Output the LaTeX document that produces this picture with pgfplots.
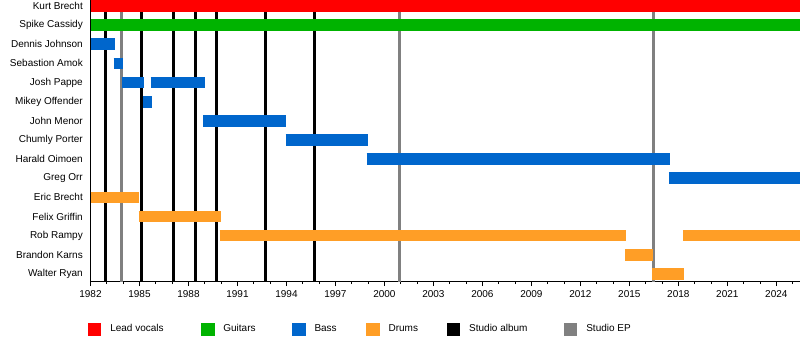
\documentclass[border=0pt]{standalone}
\usepackage{pgfplots}
\pgfplotsset{compat=1.18}
\usepackage{fontspec}
\setmainfont{Liberation Sans}
\definecolor{cvoc}{RGB}{255,0,0}
\definecolor{cgtr}{RGB}{0,179,0}
\definecolor{cbas}{RGB}{0,102,204}
\definecolor{cdrm}{RGB}{255,158,38}
\definecolor{cep}{RGB}{128,128,128}
\newcommand{\seg}[4]{\addplot[#1, line width=11.7pt, forget plot] coordinates {(#2,#4) (#3,#4)};}
\newcommand{\vl}[2]{\addplot[#1, line width=3pt, forget plot] coordinates {(#2,1) (#2,-15)};}
\begin{document}
\begin{tikzpicture}
\path[use as bounding box] (0,0) rectangle (800pt,360pt);
\begin{axis}[
  at={(90.5pt,79pt)}, anchor=south west,
  scale only axis, width=709.5pt, height=281pt,
  xmin=1982, xmax=2025.45, ymin=-14.37, ymax=0.313,
  axis x line*=bottom, axis y line*=left,
  axis line style={line width=0.8pt},
  xtick={1982,1985,...,2024}, minor xtick={1982,...,2025},
  tick align=outside, major tick length=5pt, minor tick length=3pt,
  tick style={black, line width=0.8pt},
  xticklabel style={/pgf/number format/1000 sep=, font=\fontsize{10}{12}\selectfont, yshift=-1pt},
  /pgf/number format/assume math mode=true,
  ytick={-14,...,0},
  yticklabels={Walter Ryan,Brandon Karns,Rob Rampy,Felix Griffin,Eric Brecht,Greg Orr,Harald Oimoen,Chumly Porter,John Menor,Mikey Offender,Josh Pappe,Sebastion Amok,Dennis Johnson,Spike Cassidy,Kurt Brecht},
  ytick style={draw=none},
  yticklabel style={font=\fontsize{10}{12}\selectfont, inner sep=0pt, xshift=-2.5pt},
  legend columns=-1,
  legend style={draw=none, at={(axis description cs:0,0)}, anchor=west, xshift=-6pt, yshift=-48pt,
    nodes={inner sep=0pt, font=\fontsize{10}{12}\selectfont}, column sep=0pt},
  /tikz/every odd column/.append style={column sep=9.5pt},
  sq/.style={legend image code/.code={\fill[#1] (0pt,-6.3pt) rectangle (12.7pt,6.3pt);}},
]
% album lines
\vl{black}{1982.92}
\vl{cep}{1983.92}
\vl{black}{1985.12}
\vl{black}{1987.10}
\vl{black}{1988.45}
\vl{black}{1989.72}
\vl{black}{1992.72}
\vl{black}{1995.74}
\vl{cep}{2000.93}
\vl{cep}{2016.45}
% bars
\seg{cvoc}{1982}{2026}{0}
\seg{cgtr}{1982}{2026}{-1}
\seg{cbas}{1982}{1983.47}{-2}
\seg{cbas}{1983.41}{1983.96}{-3}
\seg{cbas}{1983.90}{1985.25}{-4}
\seg{cbas}{1985.68}{1988.99}{-4}
\seg{cbas}{1985.19}{1985.74}{-5}
\seg{cbas}{1988.92}{1994.00}{-6}
\seg{cbas}{1993.95}{1998.97}{-7}
\seg{cbas}{1998.91}{2017.48}{-8}
\seg{cbas}{2017.42}{2026}{-9}
\seg{cdrm}{1982}{1985.00}{-10}
\seg{cdrm}{1984.94}{1989.97}{-11}
\seg{cdrm}{1989.90}{2014.78}{-12}
\seg{cdrm}{2018.27}{2026}{-12}
\seg{cdrm}{2014.72}{2016.44}{-13}
\seg{cdrm}{2016.38}{2018.33}{-14}
\addlegendimage{sq=cvoc}\addlegendentry{\makebox[90.5pt][l]{Lead vocals}}
\addlegendimage{sq=cgtr}\addlegendentry{\makebox[68.5pt][l]{Guitars}}
\addlegendimage{sq=cbas}\addlegendentry{\makebox[51.5pt][l]{Bass}}
\addlegendimage{sq=cdrm}\addlegendentry{\makebox[58pt][l]{Drums}}
\addlegendimage{sq=black}\addlegendentry{\makebox[94.5pt][l]{Studio album}}
\addlegendimage{sq=cep}\addlegendentry{Studio EP}
\end{axis}
\end{tikzpicture}
\end{document}
